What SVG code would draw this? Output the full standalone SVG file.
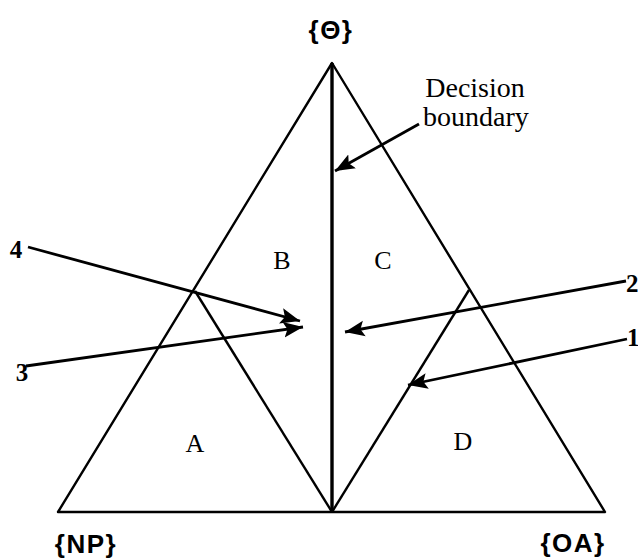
<svg xmlns="http://www.w3.org/2000/svg" width="638" height="558" viewBox="0 0 638 558">
<style>
.ln{stroke:#000;stroke-width:2.4;fill:none;stroke-linejoin:round}
.ar{stroke:#000;stroke-width:2.8;fill:none}
.serif{font-family:"Liberation Serif",serif;font-size:26px;fill:#000}
.lbl{font-family:"Liberation Serif",serif;font-size:28px;fill:#000}
.num{font-family:"Liberation Serif",serif;font-size:25px;font-weight:bold;fill:#000}
.sans{font-family:"Liberation Sans",Arial,sans-serif;font-weight:bold;font-size:26px;fill:#000;letter-spacing:1.5px}
</style>
<defs>
<marker id="ahL" viewBox="0 0 10 10" refX="10" refY="5" markerWidth="7" markerHeight="7" orient="auto" markerUnits="strokeWidth">
<path d="M0,1 L10,5 L0,9 L2,5 z" fill="#000"/>
</marker>
</defs>
<g id="triangle">
<path class="ln" d="M58,512 L332,63 L605,512 Z"/>
</g>
<g id="boundary-line">
<line x1="332" y1="63" x2="332" y2="512" stroke="#000" stroke-width="3.4"/>
</g>
<g id="triangle-A">
<path class="ln" d="M195,291 L332,512"/>
</g>
<g id="triangle-D">
<path class="ln" d="M469,290 L332,512"/>
</g>
<g id="connectors">
<line class="ar" x1="28" y1="247" x2="300" y2="321" marker-end="url(#ahL)"/>
<line class="ar" x1="26" y1="366" x2="303" y2="327" marker-end="url(#ahL)"/>
<line class="ar" x1="626" y1="281" x2="345" y2="332" marker-end="url(#ahL)"/>
<line class="ar" x1="627" y1="339" x2="408" y2="385" marker-end="url(#ahL)"/>
<line class="ar" x1="419" y1="124" x2="335" y2="171" marker-end="url(#ahL)"/>
</g>
<g id="labels">
<text class="sans" x="331" y="39" text-anchor="middle">{Θ}</text>
<text class="sans" x="86" y="553" text-anchor="middle">{NP}</text>
<text class="sans" x="573" y="552" text-anchor="middle">{OA}</text>
<text class="lbl" x="475" y="97" text-anchor="middle">Decision</text>
<text class="lbl" x="476" y="126" text-anchor="middle">boundary</text>
<text class="serif" x="282" y="269" text-anchor="middle">B</text>
<text class="serif" x="383" y="269" text-anchor="middle">C</text>
<text class="serif" x="195" y="452" text-anchor="middle">A</text>
<text class="serif" x="463" y="450" text-anchor="middle">D</text>
<text class="num" x="16" y="258" text-anchor="middle">4</text>
<text class="num" x="22" y="381" text-anchor="middle">3</text>
<text class="num" x="626" y="292">2</text>
<text class="num" x="627" y="346">1</text>
</g>
</svg>
